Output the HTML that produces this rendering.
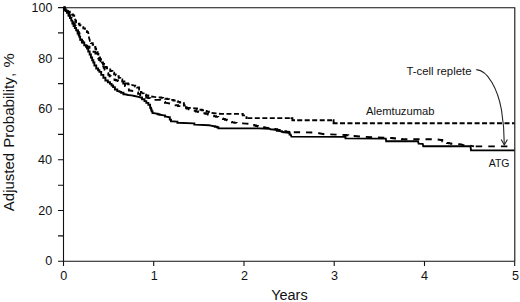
<!DOCTYPE html>
<html><head><meta charset="utf-8"><style>
html,body{margin:0;padding:0;background:#fff;}
svg{display:block;}
text{font-family:"Liberation Sans",sans-serif;fill:#111;}
</style></head><body>
<svg width="520" height="302" viewBox="0 0 520 302">
<rect width="520" height="302" fill="#fff"/>
<g fill="none" stroke="#111" stroke-width="1.1">
<path d="M58 7.8H514.8V261.3"/>
<path d="M63.5 7.5V261.3H514.8"/>
<path d="M58 261.3H63.5M58 235.9H63.5M58 210.5H63.5M58 185.2H63.5M58 159.8H63.5M58 134.4H63.5M58 109.0H63.5M58 83.6H63.5M58 58.3H63.5M58 32.9H63.5M58 7.5H63.5M63.5 261.3V266M153.7 261.3V266M244.0 261.3V266M334.2 261.3V266M424.5 261.3V266M514.7 261.3V266"/>
</g>
<g fill="none" stroke="#000" stroke-width="1.9" stroke-linejoin="miter" stroke-linecap="butt">
<path d="M63.50 7.50H64.75V10.40H66.00H66.90V12.90H67.80H68.55V15.50H69.30H70.00V18.00H70.70H71.25V20.60H71.80H72.35V23.50H72.90H73.55V26.00H74.20H74.85V28.00H75.50H76.15V30.40H76.80H77.60V33.50H78.40H78.70V35.10H79.30V36.70H79.60H80.15V39.90H80.70H81.85V42.50H83.00H84.25V45.20H85.50H86.00V46.85H87.00V48.50H87.50H88.25V51.50H89.00H89.65V54.50H90.30H90.90V57.50H91.50H92.15V60.30H92.80H93.30V62.50H93.80H94.40V65.50H95.00H96.25V68.50H97.50H98.12V70.20H99.38V71.90H100.00H101.20V74.90H102.40H103.35V77.80H104.30H105.40V80.50H106.50H107.85V82.20H109.20H110.00V83.90H110.80H111.55V85.50H112.30H113.10V87.10H113.90H114.90V89.50H115.90H117.30V91.10H118.70H119.50V91.90H121.10V92.70H121.90H123.45V94.30H125.00L128.20 95.00L131.40 95.40L134.50 96.00L138.50 96.80L140.50 97.50H142.05V99.30H143.60H144.50V101.10H146.30V102.90H147.20H148.35V104.70H149.50H150.10V107.70H150.70H151.00V109.45H151.60V111.20H151.90H152.50V113.00H153.10L156.70 113.60H157.60V114.20H159.40V114.80H160.30L163.80 115.40H165.00V116.60H166.20L169.20 117.20H169.80V119.60H170.40H171.00V121.20H171.60L176.80 121.60H177.40V122.80H178.00L193.50 123.40H194.35V124.60H195.20L209.00 125.20L211.00 125.60L214.00 126.30H214.97V126.80H216.93V127.30H217.90H218.40V128.30H218.90L258.80 128.40L269.40 128.70L270.50 129.20L275.80 129.70H276.85V130.80H277.90L281.00 131.30H281.82V131.85H283.48V132.40H284.30L288.50 132.90H289.55V134.50H290.60L291.40 136.60L345.00 136.90H345.50V138.40H346.00L385.80 138.60L386.20 141.30H418.00L418.60 143.60L422.70 143.80L423.30 146.20H470.50L471.00 150.40H514.50"/>
<path d="M63.50 7.50H64.75V10.00H66.00H66.65V10.90H67.95V11.80H68.60H69.80V13.50H71.00H71.67V14.50H73.03V15.50H73.70H74.20V17.70H74.70L75.50 20.60H76.05V22.40H76.60H77.50V23.80H78.40H79.50V25.30H80.60L81.50 25.80H82.10V27.10H83.30V28.40H83.90H84.90V30.00H85.90H86.90V32.00H87.90L88.70 34.30L89.10 37.90L89.90 40.70H90.90V43.10H91.90H92.70V44.70H93.50H94.25V47.00H95.00H95.38V48.75H96.12V50.50H96.50H96.88V52.25H97.62V54.00H98.00H98.38V55.75H99.12V57.50H99.50H100.00V59.25H101.00V61.00H101.50H102.00V62.50H103.00V64.00H103.50H104.12V65.50H105.38V67.00H106.00H106.75V68.25H108.25V69.50H109.00H110.25V71.00H111.50H112.38V72.70H114.12V74.40H115.00H115.75V75.30H117.25V76.20H118.00H118.75V77.85H120.25V79.50H121.00H122.25V81.50H123.50H124.38V82.50H126.12V83.50H127.00H128.15V84.20H130.45V84.90H131.60L134.30 85.60H135.23V86.55H137.07V87.50H138.00H139.10V89.50H140.20H140.85V92.00H141.50L142.40 93.40H143.60V94.60H144.80H145.98V95.45H148.32V96.30H149.50L154.30 96.90L160.30 97.50H161.28V97.90H163.25V98.30H165.22V98.70H166.20H167.20V99.10H169.20V99.50H171.20V99.90H172.20H173.35V100.55H175.65V101.20H176.80H177.78V101.87H179.75V102.53H181.72V103.20H182.70H183.90V105.50H185.10H186.00V107.90H186.90H191.10L195.80 108.50H197.00V109.10H199.40V109.70H200.60H201.80V110.30H204.20V110.90H205.40H206.57V111.80H208.93V112.70H210.10L216.00 113.40L220.90 113.90H241.80H242.75V115.40H243.70H246.50V118.10H247.30" stroke-dasharray="5 2.5"/>
<path d="M247.3 118.1H290.6" stroke-dasharray="5 2.5"/>
<path d="M290.6 118.1H292.4V120.2H295"/>
<path d="M297.2 120.2H333" stroke-dasharray="5 2.5"/>
<path d="M333 120.2H333.6V123.2H337.6"/>
<path d="M340 123.2H514.5" stroke-dasharray="5 2.477"/>
<path d="M63.50 7.50H64.25V9.25H65.75V11.00H66.50H67.25V13.25H68.75V15.50H69.50H70.12V17.75H71.38V20.00H72.00H72.58V22.00H73.72V24.00H74.30H74.72V25.75H75.58V27.50H76.00H76.40V29.00H77.20V30.50H77.60H78.00V32.00H78.80V33.50H79.20H79.53V35.10H80.17V36.70H80.50H80.75V38.25H81.25V39.80H81.50H82.00V41.15H83.00V42.50H83.50H84.75V44.50H86.00H87.25V46.80H88.50H89.50V49.00H90.50H91.50V50.50H92.50H93.50V51.80H94.50H95.40V53.50H96.30H96.70V55.30H97.50V57.10H97.90H98.30V58.55H99.10V60.00H99.50H100.50V62.50H101.50H102.25V64.50H103.00H103.25V66.20H103.75V67.90H104.00H104.60V69.65H105.80V71.40H106.40H107.03V73.15H108.28V74.90H108.90H109.53V76.20H110.78V77.50H111.40H112.05V78.50H113.35V79.50H114.00H114.75V80.00H116.25V80.50H117.00H118.00V81.15H120.00V81.80H121.00H121.75V82.65H123.25V83.50H124.00H125.00V86.00H126.00H126.45V87.75H127.35V89.50H127.80H128.90V90.50H130.00L133.00 91.00H134.00V91.75H136.00V92.50H137.00H138.05V93.85H140.15V95.20H141.20H142.20V95.97H144.20V96.73H146.20V97.50H147.20H148.24V98.10H150.31V98.70H152.39V99.30H154.46V99.90H155.50H159.00H160.20V100.90H162.60V101.90H165.00V102.90H166.20L169.80 103.50L174.40 104.30H175.60V105.20H178.00V106.10H179.20H183.90H184.80V107.30H186.60V108.50H187.50H188.69V109.25H191.06V110.00H193.44V110.75H195.81V111.50H197.00H198.20V112.10H200.60V112.70H201.80H203.00V113.30H205.40V113.90H206.60H207.78V114.50H210.12V115.10H211.30H212.25V115.70H214.15V116.30H216.05V116.90H217.00H218.22V117.65H220.68V118.40H221.90H222.90V119.07H224.90V119.73H226.90V120.40H227.90H228.62V121.15H230.08V121.90H230.80H231.97V122.40H234.30V122.90H236.63V123.40H237.80H242.80L246.00 123.60L249.30 123.90H250.35V124.45H252.45V125.00H253.50H254.38V125.50H256.15V126.00H257.92V126.50H258.80H259.83V126.83H261.90V127.17H263.97V127.50H265.00L270.50 128.30H271.42V128.63H273.25V128.97H275.08V129.30H276.00H277.25V129.90H279.75V130.50H281.00H282.00V130.87H284.00V131.23H286.00V131.60H287.00L292.00 132.20" stroke-dasharray="6.3 5.9"/>
<path d="M293.80 132.20L313.60 132.50L319.00 133.30L324.40 134.20L336.50 134.60L345.00 135.00H346.12V135.25H348.38V135.50H350.62V135.75H352.88V136.00H354.00L364.00 136.80L374.00 137.30L384.00 137.80L391.50 138.00H392.65V138.26H394.95V138.52H397.25V138.78H399.55V139.04H401.85V139.30H403.00H436.00L441.00 140.00H442.25V141.25H444.75V142.50H446.00H447.00V142.93H449.00V143.37H451.00V143.80H452.00L460.00 144.20L463.00 145.00L470.00 145.50L474.00 146.40" stroke-dasharray="6.3 5.9"/>
<path d="M475.7 146.4H508.5" stroke-dasharray="6.5 6.1"/>
</g>
<path d="M476.3 69.6C488 70 498 90 501.5 110C504 125 504.3 135 504.3 144.7" fill="none" stroke="#222" stroke-width="1.1"/>
<path d="M501.2 139.5L504.3 145L507.4 139.5" fill="none" stroke="#222" stroke-width="1.1"/>
<g font-size="12.6" text-anchor="end">
<text x="52.3" y="12.1" textLength="20.7" lengthAdjust="spacingAndGlyphs">100</text>
<text x="52.2" y="62.6">80</text>
<text x="52.2" y="113.3">60</text>
<text x="52.1" y="164.1">40</text>
<text x="52.2" y="214.5">20</text>
<text x="52.2" y="265.3">0</text>
</g>
<g font-size="12.6" text-anchor="middle">
<text x="63.7" y="279.7">0</text>
<text x="154.2" y="279.7">1</text>
<text x="244.4" y="279.7">2</text>
<text x="334.6" y="279.7">3</text>
<text x="424.4" y="279.7">4</text>
<text x="515.5" y="279.7">5</text>
</g>
<text x="271.2" y="299.7" font-size="14" textLength="36.5" lengthAdjust="spacingAndGlyphs">Years</text>
<g transform="rotate(-90)" font-size="14">
<text x="-211.2" y="13.8" textLength="58.4" lengthAdjust="spacingAndGlyphs">Adjusted</text>
<text x="-147.8" y="13.8" textLength="70.6" lengthAdjust="spacingAndGlyphs">Probability</text>
<text x="-76.8" y="13.8">,</text>
<text x="-67.4" y="13.8" textLength="14.2" lengthAdjust="spacingAndGlyphs">%</text>
</g>
<text x="366" y="114.6" font-size="10.2" textLength="68.5" lengthAdjust="spacingAndGlyphs">Alemtuzumab</text>
<text x="406.5" y="74.9" font-size="10.2" textLength="65" lengthAdjust="spacingAndGlyphs">T-cell replete</text>
<text x="488.7" y="166.9" font-size="10.2" textLength="20.8" lengthAdjust="spacingAndGlyphs">ATG</text>
</svg>
</body></html>
